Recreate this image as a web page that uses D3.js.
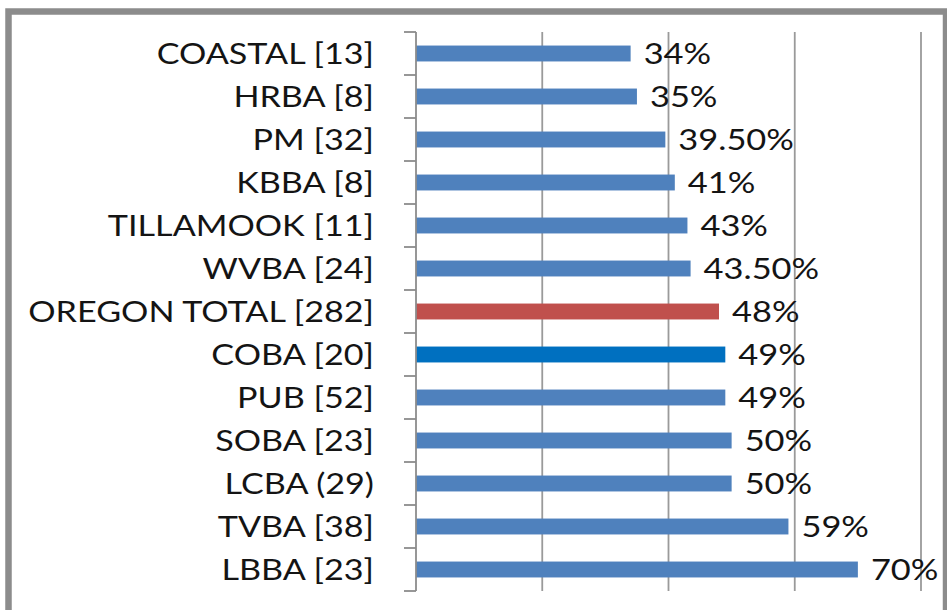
<!DOCTYPE html>
<html>
<head>
<meta charset="utf-8">
<script src="https://cdn.jsdelivr.net/npm/d3@7"></script>
<style>
  html, body { margin: 0; padding: 0; background: #fff; }
  svg { display: block; }
</style>
</head>
<body>
<svg id="chart" width="947" height="610"></svg>
<script>
const categories = ["COASTAL [13]", "HRBA [8]", "PM [32]", "KBBA [8]", "TILLAMOOK [11]", "WVBA [24]",
  "OREGON TOTAL [282]", "COBA [20]", "PUB [52]", "SOBA [23]", "LCBA (29)", "TVBA [38]", "LBBA [23]"];
const values = [34, 35, 39.5, 41, 43, 43.5, 48, 49, 49, 50, 50, 59, 70];
const valueLabels = ["34%", "35%", "39.50%", "41%", "43%", "43.50%", "48%", "49%", "49%", "50%", "50%", "59%", "70%"];
const gridTicks = [0, 20, 40, 60, 80];
const highlight = { "OREGON TOTAL [282]": "#C0504D", "COBA [20]": "#0070C0" };

const svg = d3.select("#chart");
svg.append("rect").attr("width", 947).attr("height", 610).attr("fill", "#fff");

// outer frame
svg.append("rect")
  .attr("x", 8.5).attr("y", 11.5)
  .attr("width", 937.5).attr("height", 603)
  .attr("fill", "none").attr("stroke", "#8c8c8c").attr("stroke-width", 6.5);

const x = d3.scaleLinear().domain([0, 80]).range([416, 921]);
const y = d3.scaleBand().domain(categories).range([32, 591]).paddingInner(0.63).paddingOuter(0.315);

// gridlines
svg.append("g").selectAll("line").data(gridTicks.slice(1)).join("line")
  .attr("x1", d => x(d)).attr("x2", d => x(d))
  .attr("y1", 32).attr("y2", 591)
  .attr("stroke", "#9a9a9a").attr("stroke-width", 1.8);

// bars
svg.append("g").selectAll("rect").data(categories).join("rect")
  .attr("x", x(0))
  .attr("y", d => y(d))
  .attr("width", (d, i) => x(values[i]) - x(0))
  .attr("height", y.bandwidth())
  .attr("fill", d => highlight[d] || "#4F81BD");

// y axis line + ticks at band boundaries
const ax = svg.append("g").attr("stroke", "#8c8c8c").attr("stroke-width", 1.8);
ax.append("line").attr("x1", x(0)).attr("x2", x(0)).attr("y1", 32).attr("y2", 591);
const step = y.step();
const bounds = d3.range(categories.length + 1).map(i => 32 + i * step);
ax.selectAll("line.tick").data(bounds).join("line").attr("class", "tick")
  .attr("x1", x(0) - 12).attr("x2", x(0)).attr("y1", d => d).attr("y2", d => d);

// category labels
svg.append("g").selectAll("text").data(categories).join("text")
  .attr("transform", d => `translate(374,${y(d) + y.bandwidth() / 2}) scale(1.22,1)`)
  .attr("text-anchor", "end")
  .attr("dy", "0.36em")
  .attr("font-family", "Lato, 'Open Sans', sans-serif")
  .attr("font-size", 28)
  .attr("fill", "#141414")
  .text(d => d);

// value labels
svg.append("g").selectAll("text").data(categories).join("text")
  .attr("transform", (d, i) => `translate(${x(values[i]) + 13},${y(d) + y.bandwidth() / 2}) scale(1.23,1)`)
  .attr("dy", "0.36em")
  .attr("font-family", "Lato, 'Open Sans', sans-serif")
  .attr("font-size", 28)
  .attr("fill", "#141414")
  .text((d, i) => valueLabels[i]);
</script>
</body>
</html>
